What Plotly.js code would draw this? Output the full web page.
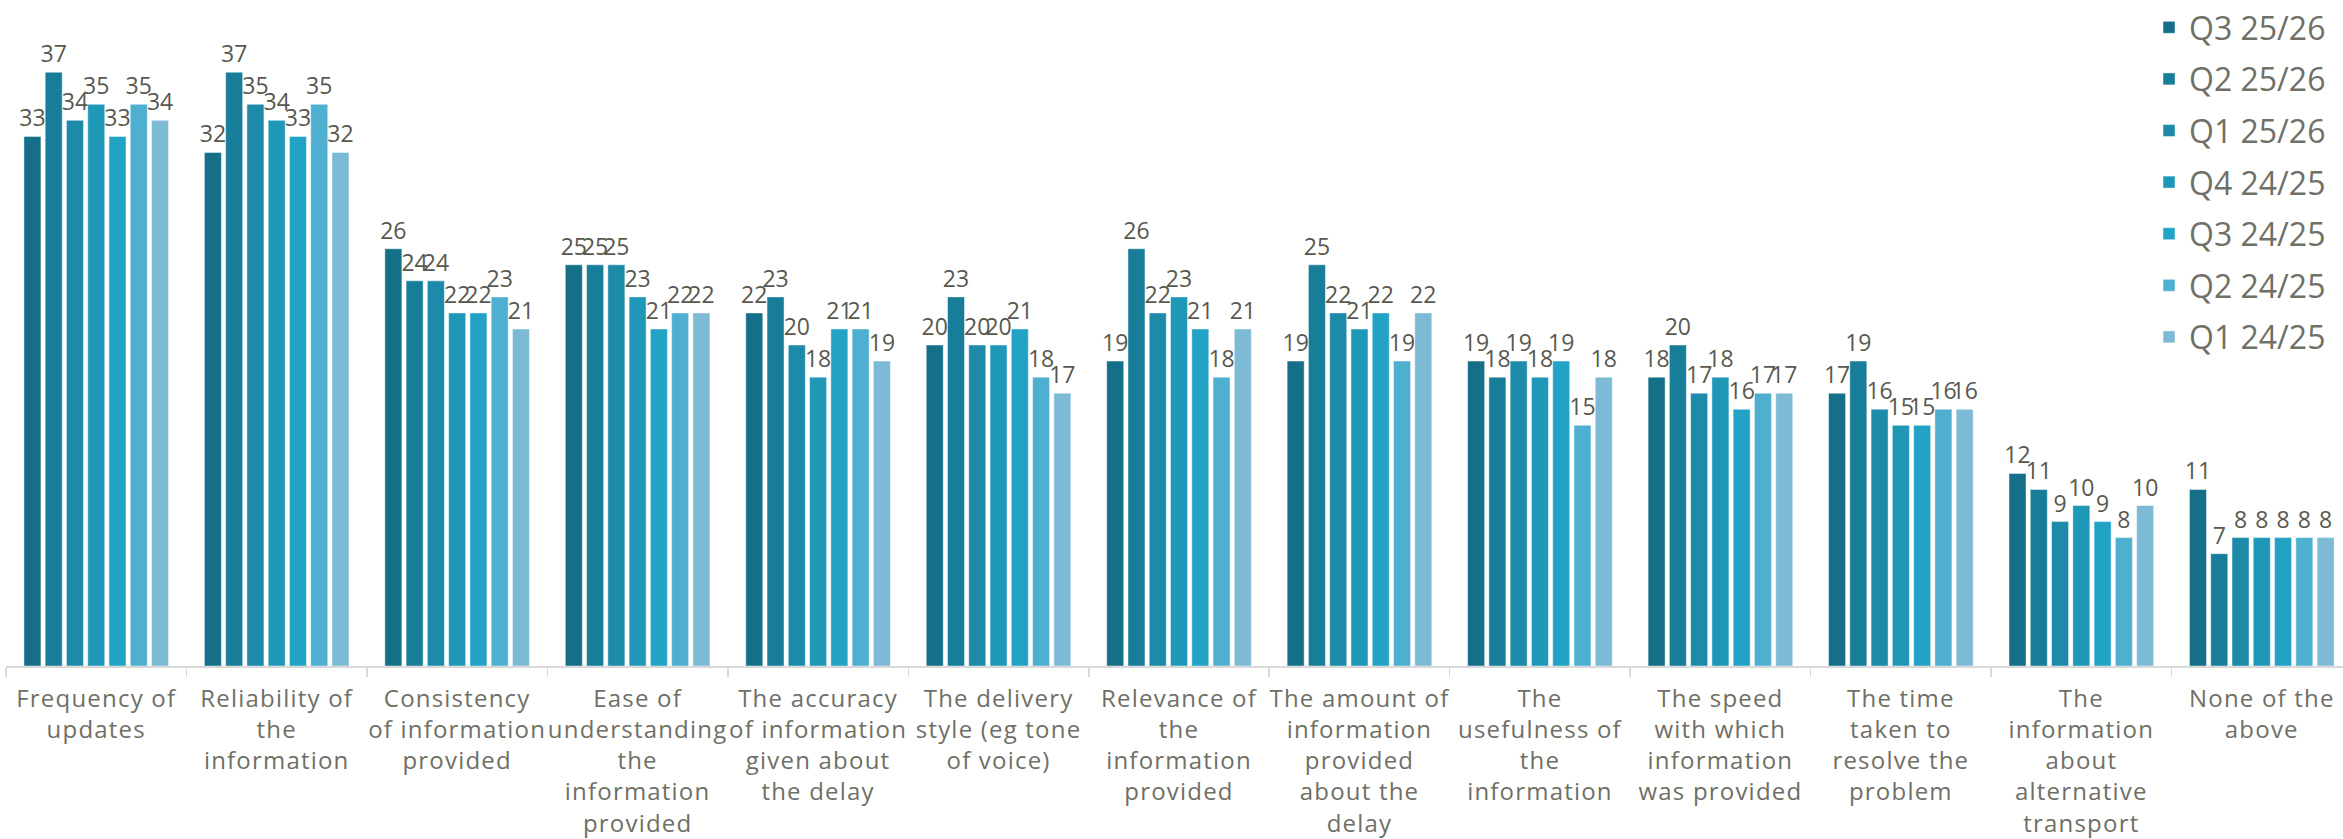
<!DOCTYPE html>
<html>
<head>
<meta charset="utf-8">
<script src="https://cdn.plot.ly/plotly-3.0.1.min.js"></script>
<style>
html,body{margin:0;padding:0;background:#fff;}
#chart{width:2343px;height:839px;}
#chart .xtick text{letter-spacing:1.2px;}
</style>
</head>
<body>
<div id="chart"></div>
<script>
const categories = [
  "Frequency of<br>updates",
  "Reliability of<br>the<br>information",
  "Consistency<br>of information<br>provided",
  "Ease of<br>understanding<br>the<br>information<br>provided",
  "The accuracy<br>of information<br>given about<br>the delay",
  "The delivery<br>style (eg tone<br>of voice)",
  "Relevance of<br>the<br>information<br>provided",
  "The amount of<br>information<br>provided<br>about the<br>delay",
  "The<br>usefulness of<br>the<br>information",
  "The speed<br>with which<br>information<br>was provided",
  "The time<br>taken to<br>resolve the<br>problem",
  "The<br>information<br>about<br>alternative<br>transport",
  "None of the<br>above"
];
const seriesNames = ["Q3 25/26","Q2 25/26","Q1 25/26","Q4 24/25","Q3 24/25","Q2 24/25","Q1 24/25"];
const q3_2526 = [33,32,26,25,22,20,19,19,19,18,17,12,11];
const q2_2526 = [37,37,24,25,23,23,26,25,18,20,19,11,7];
const q1_2526 = [34,35,24,25,20,20,22,22,19,17,16,9,8];
const q4_2425 = [35,34,22,23,18,20,23,21,18,18,15,10,8];
const q3_2425 = [33,33,22,21,21,21,21,22,19,16,15,9,8];
const q2_2425 = [35,35,23,22,21,18,18,19,15,17,16,8,8];
const q1_2425 = [34,32,21,22,19,17,21,22,18,17,16,10,8];
const seriesValues = [q3_2526,q2_2526,q1_2526,q4_2425,q3_2425,q2_2425,q1_2425];
const colors = ["#156f88","#177d98","#1c8aa8","#1f98b8","#22a3c6","#4eafd0","#7dbad6"];

const font = "'Open Sans', Lato, sans-serif";
const traces = seriesNames.map((name,i)=>({
  type:'bar', name:name, x:categories, y:seriesValues[i],
  marker:{color:colors[i], line:{color:'rgba(255,255,255,0.45)', width:1}},
  text:seriesValues[i].map(String), textposition:'outside', cliponaxis:false,
  constraintext:'none',
  textfont:{family:font, size:23, color:'#58584f'},
  legendgroup:'g'+i, hoverinfo:'none'
}));

const layout = {
  width:2343, height:839,
  margin:{l:6, r:0, t:0, b:173},
  paper_bgcolor:'#ffffff', plot_bgcolor:'rgba(0,0,0,0)',
  barmode:'group', bargap:0.175, bargroupgap:0.2,
  font:{family:font, color:'#6f6f66'},
  xaxis:{
    type:'category', range:[-0.5,12.45],
    showline:true, linecolor:'#d9d9d9', linewidth:2,
    ticks:'outside', tickson:'boundaries', ticklen:9, tickcolor:'#d9d9d9', tickwidth:1.5,
    tickfont:{family:font, size:24, color:'#6f6f66'}, ticklabelstandoff:10,
    tickangle:0, showgrid:false, zeroline:false, fixedrange:true
  },
  yaxis:{visible:false, range:[0,41.5], showgrid:false, zeroline:false, fixedrange:true},
  legend:{
    x:0.917, xanchor:'left', y:1, yanchor:'top', bgcolor:'rgba(0,0,0,0)',
    font:{family:font, size:32, color:'#6f7068'}, traceorder:'grouped', tracegroupgap:7
  },
  showlegend:true
};
Plotly.newPlot('chart', traces, layout, {displayModeBar:false, staticPlot:true});
</script>
</body>
</html>
